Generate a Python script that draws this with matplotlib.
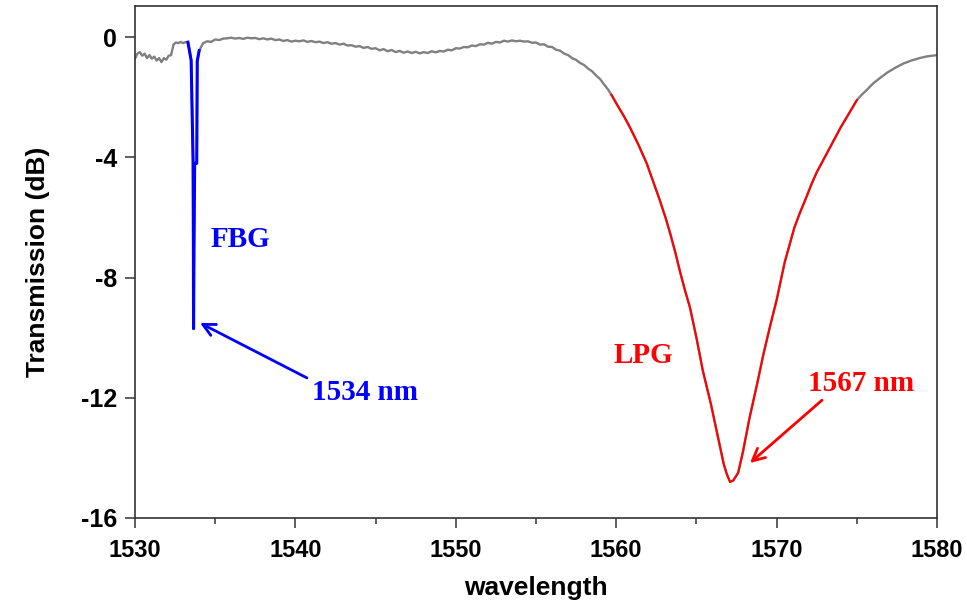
import numpy as np
import matplotlib
matplotlib.use("Agg")
import matplotlib.pyplot as plt

plt.rcParams['axes.unicode_minus'] = False

# measured spectrum (wavelength in nm, transmission in dB)
wl_start = [1530.0, 1530.15, 1530.3, 1530.45, 1530.6, 1530.75, 1530.9, 1531.05, 1531.2,
            1531.35, 1531.5, 1531.65, 1531.8, 1531.95, 1532.1, 1532.25, 1532.4, 1532.55,
            1532.7, 1532.85, 1533.0, 1533.15]
t_start = [-0.72, -0.55, -0.5, -0.62, -0.55, -0.7, -0.6, -0.72, -0.65,
           -0.78, -0.7, -0.83, -0.7, -0.75, -0.62, -0.6, -0.25, -0.18,
           -0.2, -0.16, -0.2, -0.17]

# FBG dip
wl_fbg = [1533.3, 1533.5, 1533.62, 1533.64, 1533.65, 1533.68, 1533.72, 1533.85, 1533.88, 1534.0]
t_fbg = [-0.17, -0.77, -4.1, -6.9, -9.7, -6.9, -4.2, -4.2, -0.8, -0.45]

wl_mid = list(np.arange(1534.25, 1559.51, 0.25))
t_mid = [-0.2, -0.14, -0.16, -0.08, -0.1, -0.05, -0.04, -0.02, -0.05, -0.03,
         -0.06, -0.02, -0.04, -0.03, -0.07, -0.04, -0.08, -0.05, -0.1, -0.08,
         -0.13, -0.1, -0.15, -0.12, -0.14, -0.11, -0.16, -0.13, -0.17, -0.15,
         -0.2, -0.17, -0.22, -0.2, -0.25, -0.22, -0.28, -0.27, -0.32, -0.3,
         -0.36, -0.33, -0.39, -0.37, -0.44, -0.4, -0.47, -0.43, -0.5, -0.46,
         -0.52, -0.48, -0.53, -0.49, -0.54, -0.5, -0.53, -0.47, -0.51, -0.46,
         -0.48, -0.42, -0.44, -0.37, -0.38, -0.33, -0.34, -0.28, -0.3, -0.24,
         -0.25, -0.19, -0.22, -0.16, -0.18, -0.12, -0.15, -0.11, -0.14, -0.12,
         -0.15, -0.14, -0.19, -0.18, -0.25, -0.24, -0.32, -0.33, -0.42, -0.45,
         -0.55, -0.6, -0.7, -0.76, -0.86, -0.93, -1.05, -1.14, -1.28, -1.4,
         -1.58, -1.75]

# LPG dip
wl_lpg = [1559.7, 1560.0, 1560.5, 1560.9, 1561.4, 1561.9, 1562.3, 1562.7, 1563.1, 1563.4,
          1563.7, 1564.0, 1564.3, 1564.6, 1564.8, 1565.0, 1565.2, 1565.4, 1565.65, 1565.9,
          1566.1, 1566.3, 1566.5, 1566.7, 1566.9, 1567.1, 1567.3, 1567.6, 1567.9, 1568.3,
          1568.8, 1569.2, 1569.6, 1570.0, 1570.5, 1571.1, 1571.45, 1571.8,
          1572.2, 1572.5, 1572.8, 1573.15, 1573.5, 1574.0, 1574.5, 1575.0]
t_lpg = [-1.92, -2.2, -2.65, -3.05, -3.6, -4.2, -4.8, -5.4, -6.05, -6.6,
         -7.2, -7.85, -8.45, -9.0, -9.5, -10.0, -10.55, -11.1, -11.65, -12.2,
         -12.7, -13.2, -13.7, -14.2, -14.55, -14.8, -14.75, -14.5, -13.8, -12.7,
         -11.5, -10.5, -9.6, -8.75, -7.5, -6.35, -5.85, -5.4,
         -4.86, -4.5, -4.2, -3.85, -3.5, -3.0, -2.55, -2.1]

wl_end = [1575.3, 1575.6, 1576.0, 1576.4, 1576.9, 1577.4, 1577.9, 1578.4, 1578.9, 1579.4, 1580.0]
t_end = [-1.92, -1.77, -1.55, -1.38, -1.18, -1.02, -0.88, -0.78, -0.7, -0.64, -0.6]

wl = np.array(wl_start + wl_fbg + wl_mid + wl_lpg + wl_end)
trans = np.array(t_start + t_fbg + t_mid + t_lpg + t_end)

#==================================================================
def real_main():
    fig = plt.figure(figsize=(9.67, 6.13), dpi=100)
    ax = fig.add_axes([0.1396, 0.155, 0.8294, 0.835])

    ax.plot(wl, trans, color='#808080', lw=1.7)
    blue = (wl >= 1533.3) & (wl <= 1534.0)
    red = (wl >= 1559.7) & (wl <= 1575.0)
    ax.plot(wl[blue], trans[blue], color='#0000ff', lw=2.2)
    ax.plot(wl[red], trans[red], color='#ff0000', lw=1.5)

    ax.set_xlim(1530, 1580)
    ax.set_ylim(-16, 1.03)
    ax.set_xticks([1530, 1540, 1550, 1560, 1570, 1580])
    ax.set_xticks([1535, 1545, 1555, 1565, 1575], minor=True)
    ax.set_yticks([0, -4, -8, -12, -16])
    ax.tick_params(direction='out', length=7, width=1.1, colors='#333333', labelcolor='black')
    ax.tick_params(axis='x', which='minor', direction='out', length=4, width=1.1, colors='#333333')
    for lab in ax.get_xticklabels():
        lab.set_family('Liberation Sans')
        lab.set_fontsize(17)
        lab.set_fontweight('bold')
    for lab in ax.get_yticklabels():
        lab.set_family('Liberation Sans')
        lab.set_fontsize(18)
        lab.set_fontweight('bold')
    ax.tick_params(axis='x', pad=8)
    ax.tick_params(axis='y', pad=6)
    for s in ax.spines.values():
        s.set_color('#333333')
        s.set_linewidth(1.2)

    ax.set_xlabel('wavelength', family='Liberation Sans', fontsize=19, fontweight='bold', labelpad=10)
    ax.set_ylabel('Transmission (dB)', family='Liberation Sans', fontsize=19, fontweight='bold', labelpad=22)

    serif = dict(family='Liberation Serif', fontsize=21, fontweight='bold', va='center', ha='left')
    ax.text(1534.7, -6.75, 'FBG', color='#0000ff', **serif)
    ax.text(1541.05, -11.81, '1534 nm', color='#0000ff', **serif)
    ax.text(1559.8, -10.58, 'LPG', color='#ff0000', **serif)
    ax.text(1571.96, -11.51, '1567 nm', color='#ff0000', **serif)

    ax.annotate('', xy=(1534.05, -9.51), xytext=(1540.72, -11.34),
                arrowprops=dict(arrowstyle='->', color='#0000ff', lw=2,
                                mutation_scale=22, shrinkA=0, shrinkB=0))
    ax.annotate('', xy=(1568.34, -14.17), xytext=(1572.83, -12.08),
                arrowprops=dict(arrowstyle='->', color='#ff0000', lw=2,
                                mutation_scale=22, shrinkA=0, shrinkB=0))

    fig.savefig('out.png', dpi=100)


#==================================================================
if __name__ == "__main__":
    real_main()
